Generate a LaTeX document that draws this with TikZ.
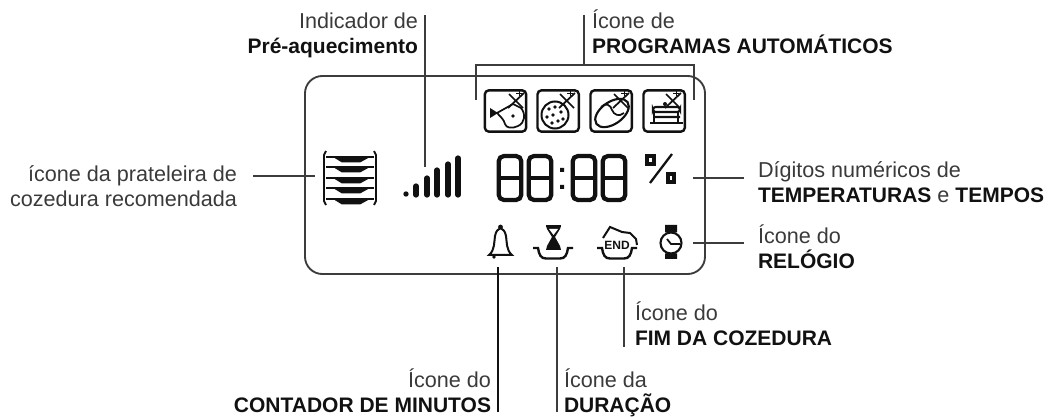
\documentclass[tikz,border=0pt]{standalone}
\usepackage{fontspec}
\setmainfont{Liberation Sans}
\usetikzlibrary{positioning, calc}

\definecolor{ink}{HTML}{111111}
\definecolor{leadgray}{HTML}{3C3C3C}
\definecolor{textgray}{HTML}{3A3A3A}

\tikzset{
  spot/.style={inner sep=0, outer sep=0},
  callout/.style={spot, text=textgray, font=\fontsize{16.2}{18.75}\selectfont},
  lead/.style={draw=leadgray, line width=.85pt},
  program/.style={spot, draw=ink, line width=1.8pt, rounded corners=3pt, minimum width=31pt, minimum height=31pt},
  digit/.style={spot, draw=ink, line width=3.2pt, rounded corners=4pt, minimum width=17pt, minimum height=33pt},
  icon/.style={draw=ink, line width=1.3pt},
}

\newcommand{\boldpart}[1]{{\fontsize{15.75}{18.75}\selectfont\bfseries\color{ink}#1}}
% the small crossed sparkle in the corner of each program icon
\newcommand{\crossmark}[2]{
  \draw[icon] (#1-7,#2-7) -- (#1+7,#2+7) (#1+8,#2-8) -- (#1-8,#2+7);
  \draw[icon, line width=.6pt] (#1+3,#2-11) -- (#1+3,#2-5) (#1,#2-8) -- (#1+6,#2-8);
}
% the tray under the duration and end icons
\newcommand{\tray}[1]{
  \draw[icon, line width=1.8pt] (#1-20,248) -- (#1-15,248) .. controls (#1-14,255) and (#1-12,258.5) .. (#1-7,258.5) -- (#1+7,258.5) .. controls (#1+12,258.5) and (#1+14,255) .. (#1+15,248) -- (#1+20,248);
}

\begin{document}
\begin{tikzpicture}[x=.75pt, y=-.75pt]
  \useasboundingbox (0,0) rectangle (1050,417);

  \node[spot, draw=leadgray, line width=1.4pt, rounded corners=13pt, minimum width=300pt, minimum height=148.5pt] (panel) at (505,175) {};

  % invisible places that the leads run to
  \node[spot, minimum width=51pt, minimum height=45pt] (shelf) at (349,176) {};
  \node[spot, minimum width=40pt, minimum height=21pt] (signal) at (425,181) {};
  \node[spot, minimum width=49.5pt, minimum height=30pt] (percent) at (660,178) {};
  \node[spot, minimum width=33pt, minimum height=30pt] (clock) at (671,243) {};
  \node[spot, minimum width=20pt, minimum height=39pt] (bell) at (498,241) {};
  \node[spot, minimum width=20pt, minimum height=39pt] (duration) at (557,241) {};
  \node[spot, minimum width=20pt, minimum height=39pt] (end) at (624,241) {};

  % program icons
  \node[program] (fish) at (505.5,111) {};
  \node[program, right=8.5pt of fish] (pizza) {};
  \node[program, right=8.75pt of pizza] (bread) {};
  \node[program, right=8.75pt of bread] (cake) {};

  \fill[ink] (490,108) -- (498,113) -- (490,118) -- cycle;
  \draw[icon] (497,113) -- (513,104) -- (521,108) .. controls (526,114) and (525,123) .. (518,126) .. controls (512,129) and (506,128) .. (505,124) .. controls (504,120) and (501,117) .. (497,113);
  \fill[ink] (513,116) circle (1.8);
  \crossmark{516}{101}

  \draw[icon, line width=1.5pt] (555,115) circle (13.5);
  \foreach \px/\py in {549/109, 555/107, 561/112, 547/117, 553/115, 558/121, 552/123, 563/119}
    \fill[ink] (\px,\py) circle (1.9);
  \crossmark{567}{101}

  \draw[icon, line width=1.6pt, rotate around={35:(612,113)}] (612,113) ellipse (19 and 11);
  \draw[icon] (601,107) .. controls (605,102) and (611,105) .. (612,110) .. controls (614,115) and (619,117) .. (624,113);
  \crossmark{621}{101}

  \draw[icon, line width=1.6pt] (650,123) -- (683,123) (654,123) -- (654,112) (678,123) -- (678,112);
  \draw[icon, line width=1.6pt, rounded corners=2pt] (653,107) -- (680,107) -- (680,112) -- (653,112) -- cycle (653,117) -- (680,117);
  \fill[ink] (665,104) circle (2);
  \crossmark{673}{101}

  % shelf icon
  \foreach \py in {157,167,178,188,199} {
    \draw[icon, line width=1pt] (326,\py) -- (374,\py);
    \fill[ink] (333,\py) -- (370,\py) -- (360,\py+5.5) -- (342,\py+5.5) -- cycle;
  }
  \draw[icon, line width=1.4pt] (326,151) -- (324,155) -- (324,201) -- (326,205);
  \draw[icon, line width=1.4pt] (374,151) -- (376,155) -- (376,201) -- (374,205);

  % preheating bars
  \fill[ink] (406,194) circle (2.7);
  \foreach \bx/\btop in {416/186, 427/178, 437/170, 448/164, 458/158}
    \draw[ink, line width=3.9pt, line cap=round] (\bx,\btop) -- (\bx,195);

  % digits
  \node[digit] (digit 1) at (510,178) {};
  \node[digit] (digit 2) at (540,178) {};
  \node[digit] (digit 3) at (584,178) {};
  \node[digit] (digit 4) at (614,178) {};
  \foreach \d in {1,2,3,4}
    \draw[ink, line width=2.4pt] (digit \d.west) -- (digit \d.east);
  \fill[ink] (560,168) rectangle (564,172) (560,185) rectangle (564,189);

  \draw[ink, line width=2.4pt] (647,156) rectangle (654,164) (668,174) rectangle (674,182);
  \draw[ink, line width=1.7pt] (672,154) -- (650,183);

  % bottom row
  \draw[icon, line width=1.5pt] (489,255) .. controls (495,250) and (494,242) .. (495,236) .. controls (496,231) and (498,229) .. (500.5,228) .. controls (503,229) and (505,231) .. (506,236) .. controls (507,242) and (506,250) .. (512,255) -- cycle;
  \fill[ink] (500.5,227) circle (2.4) (494,257) circle (1.8);

  \draw[ink, line width=1.6pt] (546,226) -- (561,226);
  \fill[ink] (546,226) -- (561,226) -- (560,229) -- (555,237) -- (560,246) -- (561,250) -- (546,250) -- (547,246) -- (552,237) -- (547,229) -- cycle;
  \fill[white] (549,229) -- (558,229) -- (553.5,235) -- cycle;
  \tray{553}

  \draw[icon, line width=1.5pt] (603,238) -- (610,227) -- (622,232) -- (630,233) -- (636,239) -- (637,245);
  \tray{617}
  \node[spot, fill=white, font=\bfseries\fontsize{9}{9}\selectfont, text=ink] (end text) at (617,245) {END};

  \draw[icon, line width=1.6pt] (671,243) circle (10.5);
  \fill[ink] (665,225) rectangle (677,232.5) (665,253.5) rectangle (677,259);
  \draw[icon] (667,239) -- (671,244) -- (680,244);

  % labels
  \node[callout, anchor=base east, align=right] (shelf label) at (237,207) {ícone da prateleira de\\cozedura recomendada};
  \node[callout, anchor=base east, align=right] (preheat label) at (418,54) {Indicador de\\\boldpart{Pré-aquecimento}};
  \node[callout, anchor=base west, align=left] (program label) at (592,54) {Ícone de\\\boldpart{PROGRAMAS AUTOMÁTICOS}};
  \node[callout, anchor=base west, align=left] (digits label) at (758,203) {Dígitos numéricos de\\\boldpart{TEMPERATURAS} e \boldpart{TEMPOS}};
  \node[callout, anchor=base west, align=left] (clock label) at (758,268) {Ícone do\\\boldpart{RELÓGIO}};
  \node[callout, anchor=base west, align=left] (end label) at (635,345) {Ícone do\\\boldpart{FIM DA COZEDURA}};
  \node[callout, anchor=base east, align=right] (bell label) at (491,412) {Ícone do\\\boldpart{CONTADOR DE MINUTOS}};
  \node[callout, anchor=base west, align=left] (duration label) at (564,412) {Ícone da\\\boldpart{DURAÇÃO}};

  % leads
  \coordinate (shelf start) at (253,176);
  \coordinate (preheat top) at (425,15);
  \coordinate (bracket left) at (476,100);
  \coordinate (bracket right) at (694,100);
  \coordinate (bracket stem) at (584,65);
  \coordinate (program top) at (584,15);
  \coordinate (digits end) at (744,178);
  \coordinate (clock end) at (744,243);
  \coordinate (bell end) at (498,412);
  \coordinate (duration end) at (557,412);
  \coordinate (end end) at (624,347);

  \draw[lead] (shelf start) -- (shelf.west);
  \draw[lead] (preheat top) -- (signal.north);
  \draw[lead] (bracket left) |- (bracket stem) -| (bracket right);
  \draw[lead] (program top) -- (bracket stem);
  \draw[lead] (percent.east) -- (digits end);
  \draw[lead] (clock.east) -- (clock end);
  \draw[lead, draw=ink, line width=1.7pt] (bell.south) -- (bell end);
  \draw[lead] (duration.south) -- (duration end);
  \draw[lead] (end.south) -- (end end);
\end{tikzpicture}
\end{document}
